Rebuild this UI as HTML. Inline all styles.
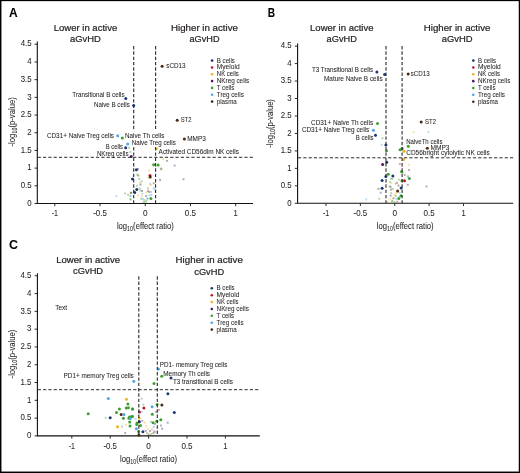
<!DOCTYPE html>
<html><head><meta charset="utf-8"><title>Volcano plots</title>
<style>
html,body{margin:0;padding:0;background:#fff;}
body{width:520px;height:473px;overflow:hidden;}
svg{display:block;will-change:transform;font-family:"Liberation Sans",sans-serif;}
text{stroke:#231f20;stroke-width:0.05px;}
text.h{stroke-width:0.22px;}
</style></head>
<body>
<svg width="520" height="473" viewBox="0 0 520 473">
<rect width="520" height="473" fill="#fff"/>
<rect x="0" y="0" width="520" height="1.15" fill="#000"/>
<rect x="0" y="0" width="1.45" height="473" fill="#000"/>
<rect x="518.75" y="0" width="1.25" height="473" fill="#000"/>
<rect x="0" y="471.55" width="520" height="1.45" fill="#000"/>
<path d="M37.3 41.5V203.5H253" fill="none" stroke="#111" stroke-width="1.1"/>
<path d="M34.5 203.50H37.3" stroke="#222" stroke-width="0.95"/>
<text x="31.6" y="205.70" font-size="8.7" text-anchor="end" textLength="4.36" lengthAdjust="spacingAndGlyphs" fill="#231f20">0</text>
<path d="M34.5 185.81H37.3" stroke="#222" stroke-width="0.95"/>
<text x="31.6" y="188.01" font-size="8.7" text-anchor="end" textLength="10.9" lengthAdjust="spacingAndGlyphs" fill="#231f20">0.5</text>
<path d="M34.5 168.12H37.3" stroke="#222" stroke-width="0.95"/>
<text x="31.6" y="170.32" font-size="8.7" text-anchor="end" textLength="4.36" lengthAdjust="spacingAndGlyphs" fill="#231f20">1</text>
<path d="M34.5 150.43H37.3" stroke="#222" stroke-width="0.95"/>
<text x="31.6" y="152.63" font-size="8.7" text-anchor="end" textLength="10.9" lengthAdjust="spacingAndGlyphs" fill="#231f20">1.5</text>
<path d="M34.5 132.74H37.3" stroke="#222" stroke-width="0.95"/>
<text x="31.6" y="134.94" font-size="8.7" text-anchor="end" textLength="4.36" lengthAdjust="spacingAndGlyphs" fill="#231f20">2</text>
<path d="M34.5 115.05H37.3" stroke="#222" stroke-width="0.95"/>
<text x="31.6" y="117.25" font-size="8.7" text-anchor="end" textLength="10.9" lengthAdjust="spacingAndGlyphs" fill="#231f20">2.5</text>
<path d="M34.5 97.36H37.3" stroke="#222" stroke-width="0.95"/>
<text x="31.6" y="99.56" font-size="8.7" text-anchor="end" textLength="4.36" lengthAdjust="spacingAndGlyphs" fill="#231f20">3</text>
<path d="M34.5 79.67H37.3" stroke="#222" stroke-width="0.95"/>
<text x="31.6" y="81.87" font-size="8.7" text-anchor="end" textLength="10.9" lengthAdjust="spacingAndGlyphs" fill="#231f20">3.5</text>
<path d="M34.5 61.98H37.3" stroke="#222" stroke-width="0.95"/>
<text x="31.6" y="64.18" font-size="8.7" text-anchor="end" textLength="4.36" lengthAdjust="spacingAndGlyphs" fill="#231f20">4</text>
<path d="M34.5 44.29H37.3" stroke="#222" stroke-width="0.95"/>
<text x="31.6" y="46.49" font-size="8.7" text-anchor="end" textLength="10.9" lengthAdjust="spacingAndGlyphs" fill="#231f20">4.5</text>
<path d="M54.80 203.5V206.2" stroke="#222" stroke-width="0.95"/>
<text x="54.80" y="216.4" font-size="8.2" text-anchor="middle" textLength="6.2" lengthAdjust="spacingAndGlyphs" fill="#231f20">-1</text>
<path d="M100.03 203.5V206.2" stroke="#222" stroke-width="0.95"/>
<text x="100.03" y="216.4" font-size="8.2" text-anchor="middle" textLength="13.6" lengthAdjust="spacingAndGlyphs" fill="#231f20">-0.5</text>
<path d="M145.25 203.5V206.2" stroke="#222" stroke-width="0.95"/>
<text x="145.25" y="216.4" font-size="8.2" text-anchor="middle" textLength="4.6" lengthAdjust="spacingAndGlyphs" fill="#231f20">0</text>
<path d="M190.47 203.5V206.2" stroke="#222" stroke-width="0.95"/>
<text x="190.47" y="216.4" font-size="8.2" text-anchor="middle" textLength="11.2" lengthAdjust="spacingAndGlyphs" fill="#231f20">0.5</text>
<path d="M235.70 203.5V206.2" stroke="#222" stroke-width="0.95"/>
<text x="235.70" y="216.4" font-size="8.2" text-anchor="middle" textLength="4.2" lengthAdjust="spacingAndGlyphs" fill="#231f20">1</text>
<path d="M297.6 43.5V203.3H513.2" fill="none" stroke="#111" stroke-width="1.1"/>
<path d="M294.8 203.30H297.6" stroke="#222" stroke-width="0.95"/>
<text x="291.6" y="205.50" font-size="8.7" text-anchor="end" textLength="4.36" lengthAdjust="spacingAndGlyphs" fill="#231f20">0</text>
<path d="M294.8 185.84H297.6" stroke="#222" stroke-width="0.95"/>
<text x="291.6" y="188.03" font-size="8.7" text-anchor="end" textLength="10.9" lengthAdjust="spacingAndGlyphs" fill="#231f20">0.5</text>
<path d="M294.8 168.37H297.6" stroke="#222" stroke-width="0.95"/>
<text x="291.6" y="170.57" font-size="8.7" text-anchor="end" textLength="4.36" lengthAdjust="spacingAndGlyphs" fill="#231f20">1</text>
<path d="M294.8 150.91H297.6" stroke="#222" stroke-width="0.95"/>
<text x="291.6" y="153.11" font-size="8.7" text-anchor="end" textLength="10.9" lengthAdjust="spacingAndGlyphs" fill="#231f20">1.5</text>
<path d="M294.8 133.44H297.6" stroke="#222" stroke-width="0.95"/>
<text x="291.6" y="135.64" font-size="8.7" text-anchor="end" textLength="4.36" lengthAdjust="spacingAndGlyphs" fill="#231f20">2</text>
<path d="M294.8 115.98H297.6" stroke="#222" stroke-width="0.95"/>
<text x="291.6" y="118.18" font-size="8.7" text-anchor="end" textLength="10.9" lengthAdjust="spacingAndGlyphs" fill="#231f20">2.5</text>
<path d="M294.8 98.51H297.6" stroke="#222" stroke-width="0.95"/>
<text x="291.6" y="100.71" font-size="8.7" text-anchor="end" textLength="4.36" lengthAdjust="spacingAndGlyphs" fill="#231f20">3</text>
<path d="M294.8 81.05H297.6" stroke="#222" stroke-width="0.95"/>
<text x="291.6" y="83.25" font-size="8.7" text-anchor="end" textLength="10.9" lengthAdjust="spacingAndGlyphs" fill="#231f20">3.5</text>
<path d="M294.8 63.58H297.6" stroke="#222" stroke-width="0.95"/>
<text x="291.6" y="65.78" font-size="8.7" text-anchor="end" textLength="4.36" lengthAdjust="spacingAndGlyphs" fill="#231f20">4</text>
<path d="M294.8 46.12H297.6" stroke="#222" stroke-width="0.95"/>
<text x="291.6" y="48.32" font-size="8.7" text-anchor="end" textLength="10.9" lengthAdjust="spacingAndGlyphs" fill="#231f20">4.5</text>
<path d="M326.00 203.3V206.0" stroke="#222" stroke-width="0.95"/>
<text x="326.00" y="216.4" font-size="8.2" text-anchor="middle" textLength="6.2" lengthAdjust="spacingAndGlyphs" fill="#231f20">-1</text>
<path d="M360.38 203.3V206.0" stroke="#222" stroke-width="0.95"/>
<text x="360.38" y="216.4" font-size="8.2" text-anchor="middle" textLength="13.6" lengthAdjust="spacingAndGlyphs" fill="#231f20">-0.5</text>
<path d="M394.75 203.3V206.0" stroke="#222" stroke-width="0.95"/>
<text x="394.75" y="216.4" font-size="8.2" text-anchor="middle" textLength="4.6" lengthAdjust="spacingAndGlyphs" fill="#231f20">0</text>
<path d="M429.12 203.3V206.0" stroke="#222" stroke-width="0.95"/>
<text x="429.12" y="216.4" font-size="8.2" text-anchor="middle" textLength="11.2" lengthAdjust="spacingAndGlyphs" fill="#231f20">0.5</text>
<path d="M463.50 203.3V206.0" stroke="#222" stroke-width="0.95"/>
<text x="463.50" y="216.4" font-size="8.2" text-anchor="middle" textLength="4.2" lengthAdjust="spacingAndGlyphs" fill="#231f20">1</text>
<path d="M37.4 273.3V435.9H259.8" fill="none" stroke="#111" stroke-width="1.1"/>
<path d="M34.6 435.90H37.4" stroke="#222" stroke-width="0.95"/>
<text x="31.4" y="438.10" font-size="8.7" text-anchor="end" textLength="4.36" lengthAdjust="spacingAndGlyphs" fill="#231f20">0</text>
<path d="M34.6 418.11H37.4" stroke="#222" stroke-width="0.95"/>
<text x="31.4" y="420.31" font-size="8.7" text-anchor="end" textLength="10.9" lengthAdjust="spacingAndGlyphs" fill="#231f20">0.5</text>
<path d="M34.6 400.32H37.4" stroke="#222" stroke-width="0.95"/>
<text x="31.4" y="402.52" font-size="8.7" text-anchor="end" textLength="4.36" lengthAdjust="spacingAndGlyphs" fill="#231f20">1</text>
<path d="M34.6 382.53H37.4" stroke="#222" stroke-width="0.95"/>
<text x="31.4" y="384.73" font-size="8.7" text-anchor="end" textLength="10.9" lengthAdjust="spacingAndGlyphs" fill="#231f20">1.5</text>
<path d="M34.6 364.74H37.4" stroke="#222" stroke-width="0.95"/>
<text x="31.4" y="366.94" font-size="8.7" text-anchor="end" textLength="4.36" lengthAdjust="spacingAndGlyphs" fill="#231f20">2</text>
<path d="M34.6 346.95H37.4" stroke="#222" stroke-width="0.95"/>
<text x="31.4" y="349.15" font-size="8.7" text-anchor="end" textLength="10.9" lengthAdjust="spacingAndGlyphs" fill="#231f20">2.5</text>
<path d="M34.6 329.16H37.4" stroke="#222" stroke-width="0.95"/>
<text x="31.4" y="331.36" font-size="8.7" text-anchor="end" textLength="4.36" lengthAdjust="spacingAndGlyphs" fill="#231f20">3</text>
<path d="M34.6 311.37H37.4" stroke="#222" stroke-width="0.95"/>
<text x="31.4" y="313.57" font-size="8.7" text-anchor="end" textLength="10.9" lengthAdjust="spacingAndGlyphs" fill="#231f20">3.5</text>
<path d="M34.6 293.58H37.4" stroke="#222" stroke-width="0.95"/>
<text x="31.4" y="295.78" font-size="8.7" text-anchor="end" textLength="4.36" lengthAdjust="spacingAndGlyphs" fill="#231f20">4</text>
<path d="M34.6 275.79H37.4" stroke="#222" stroke-width="0.95"/>
<text x="31.4" y="277.99" font-size="8.7" text-anchor="end" textLength="10.9" lengthAdjust="spacingAndGlyphs" fill="#231f20">4.5</text>
<path d="M71.80 435.9V438.59999999999997" stroke="#222" stroke-width="0.95"/>
<text x="71.80" y="449.0" font-size="8.2" text-anchor="middle" textLength="6.2" lengthAdjust="spacingAndGlyphs" fill="#231f20">-1</text>
<path d="M110.20 435.9V438.59999999999997" stroke="#222" stroke-width="0.95"/>
<text x="110.20" y="449.0" font-size="8.2" text-anchor="middle" textLength="13.6" lengthAdjust="spacingAndGlyphs" fill="#231f20">-0.5</text>
<path d="M148.60 435.9V438.59999999999997" stroke="#222" stroke-width="0.95"/>
<text x="148.60" y="449.0" font-size="8.2" text-anchor="middle" textLength="4.6" lengthAdjust="spacingAndGlyphs" fill="#231f20">0</text>
<path d="M187.00 435.9V438.59999999999997" stroke="#222" stroke-width="0.95"/>
<text x="187.00" y="449.0" font-size="8.2" text-anchor="middle" textLength="11.2" lengthAdjust="spacingAndGlyphs" fill="#231f20">0.5</text>
<path d="M225.40 435.9V438.59999999999997" stroke="#222" stroke-width="0.95"/>
<text x="225.40" y="449.0" font-size="8.2" text-anchor="middle" textLength="4.2" lengthAdjust="spacingAndGlyphs" fill="#231f20">1</text>
<text x="9" y="16.7" font-size="12" font-weight="bold" fill="#000">A</text>
<text x="267.7" y="16.6" font-size="12.3" font-weight="bold" textLength="7.3" lengthAdjust="spacingAndGlyphs" fill="#000">B</text>
<text x="9.0" y="248.6" font-size="12.4" font-weight="bold" fill="#000">C</text>
<text x="85.5" y="30.6" font-size="9.3" text-anchor="middle" textLength="63.4" lengthAdjust="spacingAndGlyphs" fill="#231f20" class="h">Lower in active</text>
<text x="85.5" y="42.2" font-size="9.3" text-anchor="middle" textLength="30.8" lengthAdjust="spacingAndGlyphs" fill="#231f20" class="h">aGvHD</text>
<text x="204.5" y="30.7" font-size="9.3" text-anchor="middle" textLength="67" lengthAdjust="spacingAndGlyphs" fill="#231f20" class="h">Higher in active</text>
<text x="204.5" y="42.3" font-size="9.3" text-anchor="middle" textLength="30" lengthAdjust="spacingAndGlyphs" fill="#231f20" class="h">aGvHD</text>
<text x="341.8" y="30.6" font-size="9.3" text-anchor="middle" textLength="63.5" lengthAdjust="spacingAndGlyphs" fill="#231f20" class="h">Lower in active</text>
<text x="341.8" y="42.2" font-size="9.3" text-anchor="middle" textLength="30.4" lengthAdjust="spacingAndGlyphs" fill="#231f20" class="h">aGvHD</text>
<text x="457.1" y="30.7" font-size="9.3" text-anchor="middle" textLength="66.6" lengthAdjust="spacingAndGlyphs" fill="#231f20" class="h">Higher in active</text>
<text x="457.1" y="42.3" font-size="9.3" text-anchor="middle" textLength="30.8" lengthAdjust="spacingAndGlyphs" fill="#231f20" class="h">aGvHD</text>
<text x="88.1" y="262.6" font-size="9.3" text-anchor="middle" textLength="63.8" lengthAdjust="spacingAndGlyphs" fill="#231f20" class="h">Lower in active</text>
<text x="88.1" y="274.20000000000005" font-size="9.3" text-anchor="middle" textLength="30" lengthAdjust="spacingAndGlyphs" fill="#231f20" class="h">cGvHD</text>
<text x="209.2" y="262.9" font-size="9.3" text-anchor="middle" textLength="67.3" lengthAdjust="spacingAndGlyphs" fill="#231f20" class="h">Higher in active</text>
<text x="209.2" y="274.5" font-size="9.3" text-anchor="middle" textLength="29.9" lengthAdjust="spacingAndGlyphs" fill="#231f20" class="h">cGvHD</text>
<text x="116.9" y="229.2" font-size="9.4" fill="#231f20" textLength="56.9" lengthAdjust="spacingAndGlyphs">log<tspan font-size="6.6" dy="1.9">10</tspan><tspan dy="-1.9">(effect ratio)</tspan></text>
<text x="376.7" y="229.2" font-size="9.4" fill="#231f20" textLength="57" lengthAdjust="spacingAndGlyphs">log<tspan font-size="6.6" dy="1.9">10</tspan><tspan dy="-1.9">(effect ratio)</tspan></text>
<text x="120" y="461.9" font-size="9.4" fill="#231f20" textLength="57" lengthAdjust="spacingAndGlyphs">log<tspan font-size="6.6" dy="1.9">10</tspan><tspan dy="-1.9">(effect ratio)</tspan></text>
<text transform="translate(14.8 121.8) rotate(-90)" x="0" y="0" font-size="9" text-anchor="middle" fill="#231f20" textLength="49.4" lengthAdjust="spacingAndGlyphs">-log<tspan font-size="6.3" dy="1.8">10</tspan><tspan dy="-1.8">(p-value)</tspan></text>
<text transform="translate(273.1 123.4) rotate(-90)" x="0" y="0" font-size="9" text-anchor="middle" fill="#231f20" textLength="48.6" lengthAdjust="spacingAndGlyphs">-log<tspan font-size="6.3" dy="1.8">10</tspan><tspan dy="-1.8">(p-value)</tspan></text>
<text transform="translate(14.8 354.1) rotate(-90)" x="0" y="0" font-size="9" text-anchor="middle" fill="#231f20" textLength="48.6" lengthAdjust="spacingAndGlyphs">-log<tspan font-size="6.3" dy="1.8">10</tspan><tspan dy="-1.8">(p-value)</tspan></text>
<circle cx="212.1" cy="60.6" r="1.3" fill="#1d3575"/>
<text x="216.8" y="62.60" font-size="6.9" textLength="18" lengthAdjust="spacingAndGlyphs" fill="#231f20">B cells</text>
<circle cx="212.1" cy="67.43" r="1.3" fill="#b8162c"/>
<text x="216.8" y="69.43" font-size="6.9" textLength="22.8" lengthAdjust="spacingAndGlyphs" fill="#231f20">Myeloid</text>
<circle cx="212.1" cy="74.26" r="1.3" fill="#f2b21c"/>
<text x="216.8" y="76.26" font-size="6.9" textLength="22" lengthAdjust="spacingAndGlyphs" fill="#231f20">NK cells</text>
<circle cx="212.1" cy="81.09" r="1.3" fill="#4b1768"/>
<text x="216.8" y="83.09" font-size="6.9" textLength="32.3" lengthAdjust="spacingAndGlyphs" fill="#231f20">NKreg cells</text>
<circle cx="212.1" cy="87.92" r="1.3" fill="#3e9e2e"/>
<text x="216.8" y="89.92" font-size="6.9" textLength="17.5" lengthAdjust="spacingAndGlyphs" fill="#231f20">T cells</text>
<circle cx="212.1" cy="94.75" r="1.3" fill="#4fa6e4"/>
<text x="216.8" y="96.75" font-size="6.9" textLength="27" lengthAdjust="spacingAndGlyphs" fill="#231f20">Treg cells</text>
<circle cx="212.1" cy="101.58000000000001" r="1.3" fill="#4a2912"/>
<text x="216.8" y="103.58" font-size="6.9" textLength="20" lengthAdjust="spacingAndGlyphs" fill="#231f20">plasma</text>
<circle cx="473.3" cy="60.6" r="1.3" fill="#1d3575"/>
<text x="478.0" y="62.60" font-size="6.9" textLength="18" lengthAdjust="spacingAndGlyphs" fill="#231f20">B cells</text>
<circle cx="473.3" cy="67.45" r="1.3" fill="#b8162c"/>
<text x="478.0" y="69.45" font-size="6.9" textLength="22.8" lengthAdjust="spacingAndGlyphs" fill="#231f20">Myeloid</text>
<circle cx="473.3" cy="74.3" r="1.3" fill="#f2b21c"/>
<text x="478.0" y="76.30" font-size="6.9" textLength="22" lengthAdjust="spacingAndGlyphs" fill="#231f20">NK cells</text>
<circle cx="473.3" cy="81.15" r="1.3" fill="#4b1768"/>
<text x="478.0" y="83.15" font-size="6.9" textLength="32.3" lengthAdjust="spacingAndGlyphs" fill="#231f20">NKreg cells</text>
<circle cx="473.3" cy="88.0" r="1.3" fill="#3e9e2e"/>
<text x="478.0" y="90.00" font-size="6.9" textLength="17.5" lengthAdjust="spacingAndGlyphs" fill="#231f20">T cells</text>
<circle cx="473.3" cy="94.85" r="1.3" fill="#4fa6e4"/>
<text x="478.0" y="96.85" font-size="6.9" textLength="27" lengthAdjust="spacingAndGlyphs" fill="#231f20">Treg cells</text>
<circle cx="473.3" cy="101.69999999999999" r="1.3" fill="#4a2912"/>
<text x="478.0" y="103.70" font-size="6.9" textLength="20" lengthAdjust="spacingAndGlyphs" fill="#231f20">plasma</text>
<circle cx="211.8" cy="288.3" r="1.3" fill="#1d3575"/>
<text x="216.6" y="290.30" font-size="6.9" textLength="18" lengthAdjust="spacingAndGlyphs" fill="#231f20">B cells</text>
<circle cx="211.8" cy="295.18" r="1.3" fill="#b8162c"/>
<text x="216.6" y="297.18" font-size="6.9" textLength="22.8" lengthAdjust="spacingAndGlyphs" fill="#231f20">Myeloid</text>
<circle cx="211.8" cy="302.06" r="1.3" fill="#f2b21c"/>
<text x="216.6" y="304.06" font-size="6.9" textLength="22" lengthAdjust="spacingAndGlyphs" fill="#231f20">NK cells</text>
<circle cx="211.8" cy="308.94" r="1.3" fill="#4b1768"/>
<text x="216.6" y="310.94" font-size="6.9" textLength="32.3" lengthAdjust="spacingAndGlyphs" fill="#231f20">NKreg cells</text>
<circle cx="211.8" cy="315.82" r="1.3" fill="#3e9e2e"/>
<text x="216.6" y="317.82" font-size="6.9" textLength="17.5" lengthAdjust="spacingAndGlyphs" fill="#231f20">T cells</text>
<circle cx="211.8" cy="322.7" r="1.3" fill="#4fa6e4"/>
<text x="216.6" y="324.70" font-size="6.9" textLength="27" lengthAdjust="spacingAndGlyphs" fill="#231f20">Treg cells</text>
<circle cx="211.8" cy="329.58000000000004" r="1.3" fill="#4a2912"/>
<text x="216.6" y="331.58" font-size="6.9" textLength="20" lengthAdjust="spacingAndGlyphs" fill="#231f20">plasma</text>
<rect x="115.55" y="195.25" width="1.9" height="1.9" fill="#4fa6e4" opacity="0.42"/>
<rect x="124.05" y="192.55" width="1.9" height="1.9" fill="#3e9e2e" opacity="0.42"/>
<rect x="127.14999999999999" y="193.75" width="1.9" height="1.9" fill="#3e9e2e" opacity="0.42"/>
<rect x="129.75" y="198.65" width="1.9" height="1.9" fill="#3e9e2e" opacity="0.42"/>
<rect x="130.25" y="191.75" width="1.9" height="1.9" fill="#4a2912" opacity="0.42"/>
<rect x="129.45000000000002" y="194.85000000000002" width="1.9" height="1.9" fill="#4fa6e4" opacity="0.42"/>
<rect x="128.05" y="146.85000000000002" width="1.9" height="1.9" fill="#3e9e2e" opacity="0.42"/>
<rect x="129.45000000000002" y="151.05" width="1.9" height="1.9" fill="#3e9e2e" opacity="0.42"/>
<rect x="136.55" y="173.85000000000002" width="1.9" height="1.9" fill="#4a2912" opacity="0.42"/>
<rect x="137.55" y="174.75" width="1.9" height="1.9" fill="#3e9e2e" opacity="0.42"/>
<rect x="148.15" y="169.55" width="1.9" height="1.9" fill="#f2b21c" opacity="0.42"/>
<rect x="137.05" y="168.05" width="1.9" height="1.9" fill="#4b1768" opacity="0.42"/>
<rect x="160.35000000000002" y="167.65" width="1.9" height="1.9" fill="#4a2912" opacity="0.42"/>
<rect x="159.75" y="168.55" width="1.9" height="1.9" fill="#3e9e2e" opacity="0.42"/>
<rect x="159.15" y="179.15" width="1.9" height="1.9" fill="#4a2912" opacity="0.42"/>
<rect x="138.25" y="177.95000000000002" width="1.9" height="1.9" fill="#3e9e2e" opacity="0.42"/>
<rect x="147.05" y="177.15" width="1.9" height="1.9" fill="#f2b21c" opacity="0.42"/>
<rect x="140.65" y="180.45000000000002" width="1.9" height="1.9" fill="#3e9e2e" opacity="0.42"/>
<rect x="139.25" y="181.75" width="1.9" height="1.9" fill="#f2b21c" opacity="0.42"/>
<rect x="139.45000000000002" y="183.65" width="1.9" height="1.9" fill="#4b1768" opacity="0.42"/>
<rect x="149.15" y="182.85000000000002" width="1.9" height="1.9" fill="#4fa6e4" opacity="0.42"/>
<rect x="149.95000000000002" y="184.05" width="1.9" height="1.9" fill="#f2b21c" opacity="0.42"/>
<rect x="152.75" y="182.35000000000002" width="1.9" height="1.9" fill="#4a2912" opacity="0.42"/>
<rect x="136.05" y="184.75" width="1.9" height="1.9" fill="#3e9e2e" opacity="0.42"/>
<rect x="147.05" y="187.45000000000002" width="1.9" height="1.9" fill="#3e9e2e" opacity="0.42"/>
<rect x="138.65" y="187.45000000000002" width="1.9" height="1.9" fill="#3e9e2e" opacity="0.42"/>
<rect x="152.75" y="187.15" width="1.9" height="1.9" fill="#4fa6e4" opacity="0.42"/>
<rect x="153.55" y="188.55" width="1.9" height="1.9" fill="#4fa6e4" opacity="0.42"/>
<rect x="139.45000000000002" y="189.55" width="1.9" height="1.9" fill="#3e9e2e" opacity="0.42"/>
<rect x="141.15" y="190.05" width="1.9" height="1.9" fill="#4b1768" opacity="0.42"/>
<rect x="145.65" y="191.45000000000002" width="1.9" height="1.9" fill="#f2b21c" opacity="0.42"/>
<rect x="147.05" y="190.05" width="1.9" height="1.9" fill="#b8162c" opacity="0.42"/>
<rect x="148.35000000000002" y="191.05" width="1.9" height="1.9" fill="#4a2912" opacity="0.42"/>
<rect x="149.95000000000002" y="190.95000000000002" width="1.9" height="1.9" fill="#4fa6e4" opacity="0.42"/>
<rect x="129.95000000000002" y="191.95000000000002" width="1.9" height="1.9" fill="#4a2912" opacity="0.42"/>
<rect x="141.35000000000002" y="192.85000000000002" width="1.9" height="1.9" fill="#4fa6e4" opacity="0.42"/>
<rect x="137.05" y="194.45000000000002" width="1.9" height="1.9" fill="#f2b21c" opacity="0.42"/>
<rect x="129.45000000000002" y="195.05" width="1.9" height="1.9" fill="#4fa6e4" opacity="0.42"/>
<rect x="140.85000000000002" y="195.25" width="1.9" height="1.9" fill="#f2b21c" opacity="0.42"/>
<rect x="145.15" y="195.05" width="1.9" height="1.9" fill="#1d3575" opacity="0.42"/>
<rect x="148.45000000000002" y="194.25" width="1.9" height="1.9" fill="#4fa6e4" opacity="0.42"/>
<rect x="150.35000000000002" y="194.05" width="1.9" height="1.9" fill="#4fa6e4" opacity="0.42"/>
<rect x="140.35000000000002" y="197.95000000000002" width="1.9" height="1.9" fill="#3e9e2e" opacity="0.42"/>
<rect x="141.85000000000002" y="197.65" width="1.9" height="1.9" fill="#4fa6e4" opacity="0.42"/>
<rect x="129.45000000000002" y="198.05" width="1.9" height="1.9" fill="#3e9e2e" opacity="0.42"/>
<rect x="143.25" y="199.05" width="1.9" height="1.9" fill="#3e9e2e" opacity="0.42"/>
<rect x="144.35000000000002" y="201.05" width="1.9" height="1.9" fill="#3e9e2e" opacity="0.42"/>
<rect x="146.55" y="197.65" width="1.9" height="1.9" fill="#1d3575" opacity="0.42"/>
<rect x="142.55" y="201.35000000000002" width="1.9" height="1.9" fill="#3e9e2e" opacity="0.42"/>
<rect x="145.55" y="199.85000000000002" width="1.9" height="1.9" fill="#3e9e2e" opacity="0.42"/>
<rect x="162.25" y="158.25" width="1.9" height="1.9" fill="#f2b21c" opacity="0.42"/>
<rect x="166.05" y="159.85000000000002" width="1.9" height="1.9" fill="#4a2912" opacity="0.42"/>
<rect x="173.65" y="164.55" width="1.9" height="1.9" fill="#1d3575" opacity="0.42"/>
<rect x="182.55" y="178.25" width="1.9" height="1.9" fill="#1d3575" opacity="0.42"/>
<circle cx="125.8" cy="98.4" r="1.5" fill="#1d3575"/>
<circle cx="133.7" cy="105.6" r="1.5" fill="#1d3575"/>
<circle cx="162.1" cy="66.3" r="1.5" fill="#4a2912"/>
<circle cx="177.2" cy="120.3" r="1.5" fill="#4a2912"/>
<circle cx="184.4" cy="139" r="1.5" fill="#4a2912"/>
<circle cx="117.7" cy="135.8" r="1.5" fill="#4fa6e4"/>
<circle cx="122.3" cy="138.1" r="1.5" fill="#3e9e2e"/>
<circle cx="127.7" cy="143.9" r="1.5" fill="#4fa6e4"/>
<circle cx="125.7" cy="147.8" r="1.5" fill="#1d3575"/>
<circle cx="131.2" cy="156.5" r="1.5" fill="#4b1768"/>
<circle cx="156.3" cy="148.5" r="1.5" fill="#f2b21c"/>
<circle cx="153.7" cy="164.8" r="1.5" fill="#3e9e2e"/>
<circle cx="158.1" cy="164.9" r="1.5" fill="#3e9e2e"/>
<circle cx="136.4" cy="169.8" r="1.5" fill="#1d3575"/>
<circle cx="132.5" cy="178.9" r="1.5" fill="#1d3575"/>
<circle cx="150.0" cy="175.4" r="1.5" fill="#b8162c"/>
<circle cx="150.2" cy="176.9" r="1.5" fill="#4a2912"/>
<circle cx="136.8" cy="189.5" r="1.5" fill="#1d3575"/>
<circle cx="134.7" cy="192.4" r="1.5" fill="#1d3575"/>
<circle cx="150.9" cy="198.6" r="1.5" fill="#3e9e2e"/>
<path d="M133.7 46V203.5" stroke="#2a2a2a" stroke-width="1.1" stroke-dasharray="3.4 1.92"/>
<path d="M155.6 46V203.5" stroke="#2a2a2a" stroke-width="1.1" stroke-dasharray="3.4 1.92"/>
<path d="M37.699999999999996 157.3H253" stroke="#2a2a2a" stroke-width="1" stroke-dasharray="3.2 2.1"/>
<rect x="124.3" y="129" width="41" height="10" fill="#fff"/>
<rect x="131.2" y="138.6" width="46" height="8.6" fill="#fff"/>
<text x="124.6" y="96.7" font-size="6.8" text-anchor="end" textLength="52.3" lengthAdjust="spacingAndGlyphs" fill="#231f20">Transitional B cells</text>
<text x="129.8" y="107.4" font-size="6.8" text-anchor="end" textLength="35.9" lengthAdjust="spacingAndGlyphs" fill="#231f20">Naive B cells</text>
<text x="166.3" y="68.2" font-size="6.8" textLength="19.3" lengthAdjust="spacingAndGlyphs" fill="#231f20">sCD13</text>
<text x="180.7" y="122.1" font-size="6.8" textLength="10.7" lengthAdjust="spacingAndGlyphs" fill="#231f20">ST2</text>
<text x="187.2" y="140.7" font-size="6.8" textLength="18.6" lengthAdjust="spacingAndGlyphs" fill="#231f20">MMP3</text>
<text x="114.0" y="137.5" font-size="6.8" text-anchor="end" textLength="67.1" lengthAdjust="spacingAndGlyphs" fill="#231f20">CD31+ Naive Treg cells</text>
<text x="125.0" y="137.7" font-size="6.8" textLength="39.3" lengthAdjust="spacingAndGlyphs" fill="#231f20">Naive Th cells</text>
<text x="131.8" y="144.6" font-size="6.8" textLength="44" lengthAdjust="spacingAndGlyphs" fill="#231f20">Naive Treg cells</text>
<text x="123.0" y="148.8" font-size="6.8" text-anchor="end" textLength="17.2" lengthAdjust="spacingAndGlyphs" fill="#231f20">B cells</text>
<text x="128.5" y="156.3" font-size="6.8" text-anchor="end" textLength="31.6" lengthAdjust="spacingAndGlyphs" fill="#231f20">NKreg cells</text>
<text x="158.6" y="153.8" font-size="6.8" textLength="80.4" lengthAdjust="spacingAndGlyphs" fill="#231f20">Activated CD56dim NK cells</text>
<rect x="381.55" y="137.35000000000002" width="1.9" height="1.9" fill="#3e9e2e" opacity="0.42"/>
<rect x="380.75" y="143.85000000000002" width="1.9" height="1.9" fill="#4fa6e4" opacity="0.42"/>
<rect x="398.45" y="148.85000000000002" width="1.9" height="1.9" fill="#3e9e2e" opacity="0.42"/>
<rect x="412.55" y="131.35000000000002" width="1.9" height="1.9" fill="#f2b21c" opacity="0.42"/>
<rect x="427.45" y="131.15" width="1.9" height="1.9" fill="#4fa6e4" opacity="0.42"/>
<rect x="365.25" y="198.35000000000002" width="1.9" height="1.9" fill="#4fa6e4" opacity="0.42"/>
<rect x="425.55" y="185.55" width="1.9" height="1.9" fill="#1d3575" opacity="0.42"/>
<rect x="398.85" y="163.05" width="1.9" height="1.9" fill="#b8162c" opacity="0.42"/>
<rect x="408.05" y="163.75" width="1.9" height="1.9" fill="#f2b21c" opacity="0.42"/>
<rect x="408.05" y="169.15" width="1.9" height="1.9" fill="#4a2912" opacity="0.42"/>
<rect x="403.85" y="173.95000000000002" width="1.9" height="1.9" fill="#4a2912" opacity="0.42"/>
<rect x="407.05" y="175.45000000000002" width="1.9" height="1.9" fill="#1d3575" opacity="0.42"/>
<rect x="389.95" y="177.65" width="1.9" height="1.9" fill="#3e9e2e" opacity="0.42"/>
<rect x="391.45" y="178.05" width="1.9" height="1.9" fill="#3e9e2e" opacity="0.42"/>
<rect x="397.85" y="178.65" width="1.9" height="1.9" fill="#3e9e2e" opacity="0.42"/>
<rect x="389.15000000000003" y="181.05" width="1.9" height="1.9" fill="#3e9e2e" opacity="0.42"/>
<rect x="390.45" y="182.35000000000002" width="1.9" height="1.9" fill="#f2b21c" opacity="0.42"/>
<rect x="396.05" y="181.85000000000002" width="1.9" height="1.9" fill="#b8162c" opacity="0.42"/>
<rect x="394.65000000000003" y="182.65" width="1.9" height="1.9" fill="#3e9e2e" opacity="0.42"/>
<rect x="406.85" y="183.85000000000002" width="1.9" height="1.9" fill="#4a2912" opacity="0.42"/>
<rect x="397.55" y="184.65" width="1.9" height="1.9" fill="#4a2912" opacity="0.42"/>
<rect x="388.75" y="185.55" width="1.9" height="1.9" fill="#4b1768" opacity="0.42"/>
<rect x="389.95" y="186.05" width="1.9" height="1.9" fill="#3e9e2e" opacity="0.42"/>
<rect x="377.55" y="187.85000000000002" width="1.9" height="1.9" fill="#4a2912" opacity="0.42"/>
<rect x="389.95" y="188.65" width="1.9" height="1.9" fill="#4a2912" opacity="0.42"/>
<rect x="391.95" y="188.05" width="1.9" height="1.9" fill="#3e9e2e" opacity="0.42"/>
<rect x="379.75" y="191.75" width="1.9" height="1.9" fill="#1d3575" opacity="0.42"/>
<rect x="395.15000000000003" y="192.05" width="1.9" height="1.9" fill="#f2b21c" opacity="0.42"/>
<rect x="398.65000000000003" y="192.05" width="1.9" height="1.9" fill="#4fa6e4" opacity="0.42"/>
<rect x="390.25" y="192.25" width="1.9" height="1.9" fill="#3e9e2e" opacity="0.42"/>
<rect x="389.75" y="194.75" width="1.9" height="1.9" fill="#4b1768" opacity="0.42"/>
<rect x="393.45" y="194.25" width="1.9" height="1.9" fill="#f2b21c" opacity="0.42"/>
<rect x="394.85" y="194.95000000000002" width="1.9" height="1.9" fill="#3e9e2e" opacity="0.42"/>
<rect x="378.25" y="197.75" width="1.9" height="1.9" fill="#3e9e2e" opacity="0.42"/>
<rect x="388.75" y="198.25" width="1.9" height="1.9" fill="#f2b21c" opacity="0.42"/>
<rect x="392.45" y="197.25" width="1.9" height="1.9" fill="#4a2912" opacity="0.42"/>
<rect x="395.15000000000003" y="197.75" width="1.9" height="1.9" fill="#4fa6e4" opacity="0.42"/>
<rect x="391.45" y="199.75" width="1.9" height="1.9" fill="#3e9e2e" opacity="0.42"/>
<rect x="396.35" y="200.75" width="1.9" height="1.9" fill="#b8162c" opacity="0.42"/>
<rect x="393.45" y="201.25" width="1.9" height="1.9" fill="#3e9e2e" opacity="0.42"/>
<rect x="398.85" y="195.95000000000002" width="1.9" height="1.9" fill="#4fa6e4" opacity="0.42"/>
<rect x="400.55" y="170.25" width="1.9" height="1.9" fill="#3e9e2e" opacity="0.42"/>
<rect x="402.05" y="171.55" width="1.9" height="1.9" fill="#3e9e2e" opacity="0.42"/>
<rect x="391.05" y="200.55" width="1.9" height="1.9" fill="#3e9e2e" opacity="0.42"/>
<rect x="387.05" y="201.05" width="1.9" height="1.9" fill="#f2b21c" opacity="0.42"/>
<circle cx="376.9" cy="71.9" r="1.5" fill="#1d3575"/>
<circle cx="384.6" cy="74.6" r="1.5" fill="#1d3575"/>
<circle cx="408.2" cy="74.1" r="1.5" fill="#4a2912"/>
<circle cx="421.2" cy="122.1" r="1.5" fill="#4a2912"/>
<circle cx="377.5" cy="123.6" r="1.5" fill="#3e9e2e"/>
<circle cx="373.4" cy="130.3" r="1.5" fill="#4fa6e4"/>
<circle cx="375.5" cy="135.2" r="1.5" fill="#1d3575"/>
<circle cx="385.9" cy="145" r="1.5" fill="#1d3575"/>
<circle cx="386.5" cy="150.8" r="1.5" fill="#3e9e2e"/>
<circle cx="400.3" cy="149.8" r="1.5" fill="#3e9e2e"/>
<circle cx="402.2" cy="148.6" r="1.5" fill="#3e9e2e"/>
<circle cx="404.1" cy="151.3" r="1.5" fill="#f2b21c"/>
<circle cx="408.3" cy="146.3" r="1.5" fill="#3e9e2e"/>
<circle cx="427.3" cy="148.3" r="1.5" fill="#4a2912"/>
<circle cx="386.7" cy="162.2" r="1.5" fill="#1d3575"/>
<circle cx="382.6" cy="164.5" r="1.5" fill="#4b1768"/>
<circle cx="403.6" cy="159.5" r="1.5" fill="#f2b21c"/>
<circle cx="401.6" cy="171.7" r="1.5" fill="#3e9e2e"/>
<circle cx="385.9" cy="176.4" r="1.5" fill="#1d3575"/>
<circle cx="388.2" cy="174.2" r="1.5" fill="#3e9e2e"/>
<circle cx="392.9" cy="175.9" r="1.5" fill="#1d3575"/>
<circle cx="382.1" cy="180.5" r="1.5" fill="#1d3575"/>
<circle cx="409.4" cy="178.6" r="1.5" fill="#3e9e2e"/>
<circle cx="402" cy="180.8" r="1.5" fill="#3e9e2e"/>
<circle cx="404.5" cy="180.8" r="1.5" fill="#b8162c"/>
<circle cx="382.1" cy="188.3" r="1.5" fill="#1d3575"/>
<circle cx="401.1" cy="188" r="1.5" fill="#1d3575"/>
<circle cx="397.6" cy="191" r="1.5" fill="#4a2912"/>
<circle cx="401" cy="195.7" r="1.5" fill="#3e9e2e"/>
<circle cx="398.8" cy="198.4" r="1.5" fill="#3e9e2e"/>
<path d="M386 46V203.3" stroke="#2a2a2a" stroke-width="1.1" stroke-dasharray="3.4 1.92"/>
<path d="M402.1 46V203.3" stroke="#2a2a2a" stroke-width="1.1" stroke-dasharray="3.4 1.92"/>
<path d="M298.0 157.8H513.2" stroke="#2a2a2a" stroke-width="1" stroke-dasharray="3.2 2.1"/>
<text x="373.1" y="71.7" font-size="6.8" text-anchor="end" textLength="61.2" lengthAdjust="spacingAndGlyphs" fill="#231f20">T3 Transitional B cells</text>
<text x="382.7" y="81.4" font-size="6.8" text-anchor="end" textLength="58.7" lengthAdjust="spacingAndGlyphs" fill="#231f20">Mature Naive B cells</text>
<text x="410.7" y="76.0" font-size="6.8" textLength="18.9" lengthAdjust="spacingAndGlyphs" fill="#231f20">sCD13</text>
<text x="425.0" y="123.8" font-size="6.8" textLength="11" lengthAdjust="spacingAndGlyphs" fill="#231f20">ST2</text>
<text x="373.1" y="125.2" font-size="6.8" text-anchor="end" textLength="62.1" lengthAdjust="spacingAndGlyphs" fill="#231f20">CD31+ Naive Th cells</text>
<text x="369.2" y="131.6" font-size="6.8" text-anchor="end" textLength="67.3" lengthAdjust="spacingAndGlyphs" fill="#231f20">CD31+ Naive Treg cells</text>
<text x="373.5" y="139.8" font-size="6.8" text-anchor="end" textLength="17.7" lengthAdjust="spacingAndGlyphs" fill="#231f20">B cells</text>
<text x="406.2" y="143.7" font-size="6.8" textLength="36.3" lengthAdjust="spacingAndGlyphs" fill="#231f20">NaiveTh cells</text>
<text x="430.5" y="149.8" font-size="6.8" textLength="19" lengthAdjust="spacingAndGlyphs" fill="#231f20">MMP3</text>
<text x="406.2" y="155.1" font-size="6.8" textLength="83.5" lengthAdjust="spacingAndGlyphs" fill="#231f20">CD56bright cytolytic NK cells</text>
<rect x="140.75" y="397.65000000000003" width="1.9" height="1.9" fill="#3e9e2e" opacity="0.42"/>
<rect x="142.45000000000002" y="403.65000000000003" width="1.9" height="1.9" fill="#3e9e2e" opacity="0.42"/>
<rect x="158.05" y="408.95" width="1.9" height="1.9" fill="#b8162c" opacity="0.42"/>
<rect x="155.15" y="410.85" width="1.9" height="1.9" fill="#1d3575" opacity="0.42"/>
<rect x="141.05" y="410.85" width="1.9" height="1.9" fill="#4fa6e4" opacity="0.42"/>
<rect x="141.35000000000002" y="419.85" width="1.9" height="1.9" fill="#1d3575" opacity="0.42"/>
<rect x="143.75" y="421.65000000000003" width="1.9" height="1.9" fill="#f2b21c" opacity="0.42"/>
<rect x="150.05" y="420.85" width="1.9" height="1.9" fill="#3e9e2e" opacity="0.42"/>
<rect x="154.05" y="422.95" width="1.9" height="1.9" fill="#1d3575" opacity="0.42"/>
<rect x="166.75" y="421.75" width="1.9" height="1.9" fill="#1d3575" opacity="0.42"/>
<rect x="160.15" y="424.55" width="1.9" height="1.9" fill="#1d3575" opacity="0.42"/>
<rect x="161.15" y="427.75" width="1.9" height="1.9" fill="#1d3575" opacity="0.42"/>
<rect x="145.15" y="425.15000000000003" width="1.9" height="1.9" fill="#f2b21c" opacity="0.42"/>
<rect x="152.75" y="425.85" width="1.9" height="1.9" fill="#3e9e2e" opacity="0.42"/>
<rect x="153.25" y="430.35" width="1.9" height="1.9" fill="#b8162c" opacity="0.42"/>
<rect x="144.75" y="429.85" width="1.9" height="1.9" fill="#4b1768" opacity="0.42"/>
<rect x="147.05" y="428.05" width="1.9" height="1.9" fill="#f2b21c" opacity="0.42"/>
<rect x="149.05" y="430.05" width="1.9" height="1.9" fill="#4a2912" opacity="0.42"/>
<rect x="151.05" y="428.55" width="1.9" height="1.9" fill="#4fa6e4" opacity="0.42"/>
<rect x="146.05" y="432.05" width="1.9" height="1.9" fill="#3e9e2e" opacity="0.42"/>
<rect x="148.55" y="432.55" width="1.9" height="1.9" fill="#f2b21c" opacity="0.42"/>
<rect x="150.55" y="433.05" width="1.9" height="1.9" fill="#3e9e2e" opacity="0.42"/>
<rect x="152.55" y="432.05" width="1.9" height="1.9" fill="#4a2912" opacity="0.42"/>
<rect x="154.55" y="431.05" width="1.9" height="1.9" fill="#4fa6e4" opacity="0.42"/>
<rect x="147.55" y="434.05" width="1.9" height="1.9" fill="#4a2912" opacity="0.42"/>
<rect x="104.75" y="416.85" width="1.9" height="1.9" fill="#3e9e2e" opacity="0.42"/>
<rect x="121.14999999999999" y="425.55" width="1.9" height="1.9" fill="#3e9e2e" opacity="0.42"/>
<rect x="125.05" y="423.95" width="1.9" height="1.9" fill="#f2b21c" opacity="0.42"/>
<rect x="124.25" y="432.15000000000003" width="1.9" height="1.9" fill="#4a2912" opacity="0.42"/>
<rect x="134.55" y="418.05" width="1.9" height="1.9" fill="#4fa6e4" opacity="0.42"/>
<circle cx="133.8" cy="381.2" r="1.5" fill="#4fa6e4"/>
<circle cx="154" cy="383.6" r="1.5" fill="#3e9e2e"/>
<circle cx="158.5" cy="369" r="1.5" fill="#4fa6e4"/>
<circle cx="161.7" cy="376.2" r="1.5" fill="#3e9e2e"/>
<circle cx="171" cy="378.1" r="1.5" fill="#1d3575"/>
<circle cx="167.9" cy="393.8" r="1.5" fill="#1d3575"/>
<circle cx="108.3" cy="398.5" r="1.5" fill="#4fa6e4"/>
<circle cx="126.5" cy="399.3" r="1.5" fill="#f2b21c"/>
<circle cx="127.9" cy="404" r="1.5" fill="#3e9e2e"/>
<circle cx="119.4" cy="409" r="1.5" fill="#3e9e2e"/>
<circle cx="126.3" cy="408" r="1.5" fill="#3e9e2e"/>
<circle cx="128.4" cy="407.7" r="1.5" fill="#3e9e2e"/>
<circle cx="132.6" cy="409" r="1.5" fill="#3e9e2e"/>
<circle cx="88.2" cy="413.8" r="1.5" fill="#3e9e2e"/>
<circle cx="116.5" cy="412.4" r="1.5" fill="#3e9e2e"/>
<circle cx="121.2" cy="414.5" r="1.5" fill="#4a2912"/>
<circle cx="124" cy="414.5" r="1.5" fill="#4fa6e4"/>
<circle cx="110.2" cy="417.8" r="1.5" fill="#1d3575"/>
<circle cx="123.4" cy="418.2" r="1.5" fill="#3e9e2e"/>
<circle cx="129.5" cy="417" r="1.5" fill="#3e9e2e"/>
<circle cx="131.6" cy="416.6" r="1.5" fill="#3e9e2e"/>
<circle cx="128.9" cy="418.3" r="1.5" fill="#3e9e2e"/>
<circle cx="130.3" cy="418.5" r="1.5" fill="#4fa6e4"/>
<circle cx="129.7" cy="422" r="1.5" fill="#3e9e2e"/>
<circle cx="130" cy="425.9" r="1.5" fill="#3e9e2e"/>
<circle cx="117.5" cy="426.8" r="1.5" fill="#f2b21c"/>
<circle cx="157.1" cy="404.4" r="1.5" fill="#3e9e2e"/>
<circle cx="161.9" cy="404.9" r="1.5" fill="#4a2912"/>
<circle cx="143.9" cy="408.1" r="1.5" fill="#b8162c"/>
<circle cx="152.1" cy="406.8" r="1.5" fill="#4fa6e4"/>
<circle cx="132.5" cy="408.9" r="1.5" fill="#3e9e2e"/>
<circle cx="139.4" cy="412.1" r="1.5" fill="#b8162c"/>
<circle cx="174.3" cy="412.5" r="1.5" fill="#1d3575"/>
<circle cx="152.3" cy="414.2" r="1.5" fill="#3e9e2e"/>
<circle cx="132.5" cy="416.5" r="1.5" fill="#3e9e2e"/>
<circle cx="139.2" cy="417.9" r="1.5" fill="#f2b21c"/>
<circle cx="160.8" cy="419.7" r="1.5" fill="#3e9e2e"/>
<circle cx="139.4" cy="421.8" r="1.5" fill="#1d3575"/>
<circle cx="137" cy="422.9" r="1.5" fill="#3e9e2e"/>
<circle cx="136.8" cy="424.5" r="1.5" fill="#3e9e2e"/>
<circle cx="153.1" cy="422.7" r="1.5" fill="#3e9e2e"/>
<circle cx="156.8" cy="421.3" r="1.5" fill="#3e9e2e"/>
<circle cx="140.5" cy="425.5" r="1.5" fill="#3e9e2e"/>
<circle cx="136.4" cy="428.7" r="1.5" fill="#4fa6e4"/>
<circle cx="138.6" cy="431.6" r="1.5" fill="#3e9e2e"/>
<circle cx="142.9" cy="431.7" r="1.5" fill="#1d3575"/>
<circle cx="138.9" cy="435" r="1.5" fill="#4a2912"/>
<path d="M138.8 276.3V435.9" stroke="#2a2a2a" stroke-width="1.1" stroke-dasharray="3.4 1.92"/>
<path d="M157.3 276.3V435.9" stroke="#2a2a2a" stroke-width="1.1" stroke-dasharray="3.4 1.92"/>
<path d="M37.8 389.7H259.8" stroke="#2a2a2a" stroke-width="1" stroke-dasharray="3.2 2.1"/>
<text x="55.2" y="310.2" font-size="6.8" textLength="11.9" lengthAdjust="spacingAndGlyphs" fill="#231f20">Text</text>
<text x="133.8" y="378.2" font-size="6.8" text-anchor="end" textLength="70.3" lengthAdjust="spacingAndGlyphs" fill="#231f20">PD1+ memory Treg cells</text>
<text x="159.8" y="366.9" font-size="6.8" textLength="67.5" lengthAdjust="spacingAndGlyphs" fill="#231f20">PD1- memory Treg cells</text>
<text x="163.3" y="375.6" font-size="6.8" textLength="46.7" lengthAdjust="spacingAndGlyphs" fill="#231f20">Memory Th cells</text>
<text x="172.9" y="384.2" font-size="6.8" textLength="60" lengthAdjust="spacingAndGlyphs" fill="#231f20">T3 transitional B cells</text>
</svg>
</body></html>
